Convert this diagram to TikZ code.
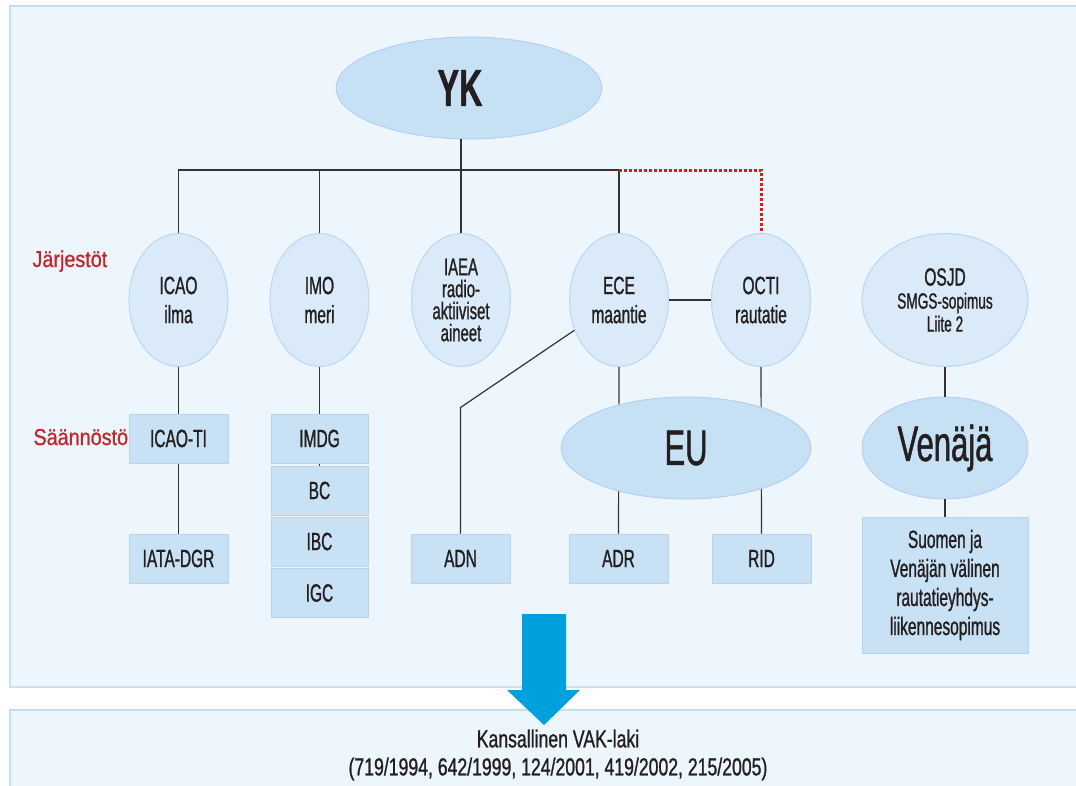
\documentclass[tikz,border=0pt]{standalone}
\usepackage{fontspec}
\setmainfont{Liberation Sans}[FakeStretch=0.62,FakeBold=1]
\newfontfamily\labelfont{Liberation Sans}[FakeStretch=0.86,FakeBold=1]
\newfontfamily\lawfont{Liberation Sans}[FakeStretch=0.72,FakeBold=1]
\usetikzlibrary{positioning,shapes.geometric}

\definecolor{panelbg}{HTML}{EEF6FD}
\definecolor{panelline}{HTML}{C9E0F3}
\definecolor{orgfill}{HTML}{DAEAF8}
\definecolor{orgline}{HTML}{B9D7F0}
\definecolor{bigfill}{HTML}{C6E0F4}
\definecolor{boxfill}{HTML}{C9E1F5}
\definecolor{boxline}{HTML}{B5D4EF}
\definecolor{txt}{HTML}{231F20}
\definecolor{labelred}{HTML}{C1272D}
\definecolor{dotred}{HTML}{E8141C}
\definecolor{arrowblue}{HTML}{00A0DF}

\begin{document}
\begin{tikzpicture}[x=1pt,y=-1pt,
	every node/.style={text=txt},
	org/.style={ellipse,fill=orgfill,draw=orgline,line width=1pt,inner sep=0pt,
		minimum width=99pt,minimum height=133pt,align=center,
		font=\fontsize{25}{29}\selectfont},
	bigorg/.style={ellipse,fill=bigfill,draw=bigfill!90!blue,line width=0.8pt,inner sep=0pt,
		minimum height=102pt,font=\fontsize{50}{50}\selectfont},
	rule/.style={rectangle,fill=boxfill,draw=boxline,line width=1pt,inner sep=0pt,
		minimum width=99pt,minimum height=49pt,align=center,
		font=\fontsize{25}{29}\selectfont},
	side/.style={anchor=base west,text=labelred,font=\labelfont\fontsize{23}{26}\selectfont},
	link/.style={draw=black!80,line width=1.2pt},
	reddots/.style={draw=dotred,line width=3pt,dash pattern=on 2.5pt off 2.5pt}]
	\useasboundingbox (0,0) rectangle (1076,785);
	% panels
	\draw[fill=panelbg,draw=panelline,line width=1.5pt] (10,6) rectangle (1090,687);
	\draw[fill=panelbg,draw=panelline,line width=1.5pt] (10,710) rectangle (1090,800);
	\coordinate (bus) at (0,170);

	\node[bigorg,minimum width=266pt] (YK) at (469,88) {};
	\node[font=\bfseries\fontsize{52}{52}\selectfont] (yktext) at (460,88) {YK};

	\node[org] (ICAO) at (178.5,300) {ICAO\\ilma};
	\node[org] (IMO) at (319.5,300) {IMO\\meri};
	\node[org,font=\fontsize{24}{22}\selectfont] (IAEA) at (461,300) {IAEA\\radio-\\aktiiviset\\aineet};
	\node[org] (ECE) at (619,300) {ECE\\maantie};
	\node[org] (OCTI) at (761,300) {OCTI\\rautatie};
	\node[org,minimum width=166pt,font=\fontsize{22}{23}\selectfont] (OSJD) at (945,300)
		{{\fontsize{25}{23}\selectfont OSJD}\\SMGS-sopimus\\Liite 2};

	\node[side] (jarj) at (29,267) {Järjestöt};
	\node[side] (saan) at (30,445) {Säännöstö};

	\node[rule] (ICAOTI) at (178.5,438.5) {ICAO-TI};
	\node[rule] (IATA) at (178.5,558.5) {IATA-DGR};
	\node[rule,minimum width=97pt] (IMDG) at (319.5,438.5) {IMDG};
	\node[rule,minimum width=97pt] (BC) at (319.5,490.5) {BC};
	\node[rule,minimum width=97pt] (IBC) at (319.5,541.5) {IBC};
	\node[rule,minimum width=97pt] (IGC) at (319.5,593) {IGC};
	\node[rule] (ADN) at (460.5,558.5) {ADN};
	\node[rule] (ADR) at (618.5,558.5) {ADR};
	\node[rule] (RID) at (761.5,558.5) {RID};
	\node[rule,minimum width=166pt,minimum height=136pt] (suomen) at (945,585)
		{Suomen ja\\Venäjän välinen\\rautatieyhdys-\\liikennesopimus};

	% connectors
	\draw[link] (IAEA.north) -- (IAEA.north |- YK.south);
	\draw[link] (ICAO.north) -- (ICAO.north |- bus) -- (ECE.north |- bus) -- (ECE.north);
	\draw[link] (IMO.north) -- (IMO.north |- bus);
	\draw[reddots] (ECE.north |- bus) -- (OCTI.north |- bus) -- (OCTI.north);
	\draw[link] (ECE.east) -- (OCTI.west);
	\draw[link] (ICAO.south) -- (ICAOTI.north);
	\draw[link] (ICAOTI.south) -- (IATA.north);
	\draw[link] (IMO.south) -- (IMDG.north);
	\draw[link] (IMDG.south) -- (BC.north);
	\draw[link] (ADN.north) -- ++(0,-126) coordinate (adnbend) -- (ECE);
	\draw[link] (ECE.south) -- (ADR.north);
	\draw[link] (OCTI.south) -- (RID.north);

	\node[bigorg,minimum width=250pt] (EU) at (686,448) {EU};
	\node[bigorg,minimum width=166pt] (venaja) at (945,448) {Venäjä};
	\draw[link] (OSJD.south) -- (venaja.north);
	\draw[link] (venaja.south) -- (suomen.north);

	% national law
	\fill[arrowblue] (522,614) -- (566,614) -- (566,690) -- (580,690) -- (544,725)
		-- (507,690) -- (522,690) -- cycle;
	\node[align=center,font=\lawfont\fontsize{24.5}{28}\selectfont] (vak) at (558,755)
		{Kansallinen VAK-laki\\(719/1994, 642/1999, 124/2001, 419/2002, 215/2005)};
\end{tikzpicture}
\end{document}
